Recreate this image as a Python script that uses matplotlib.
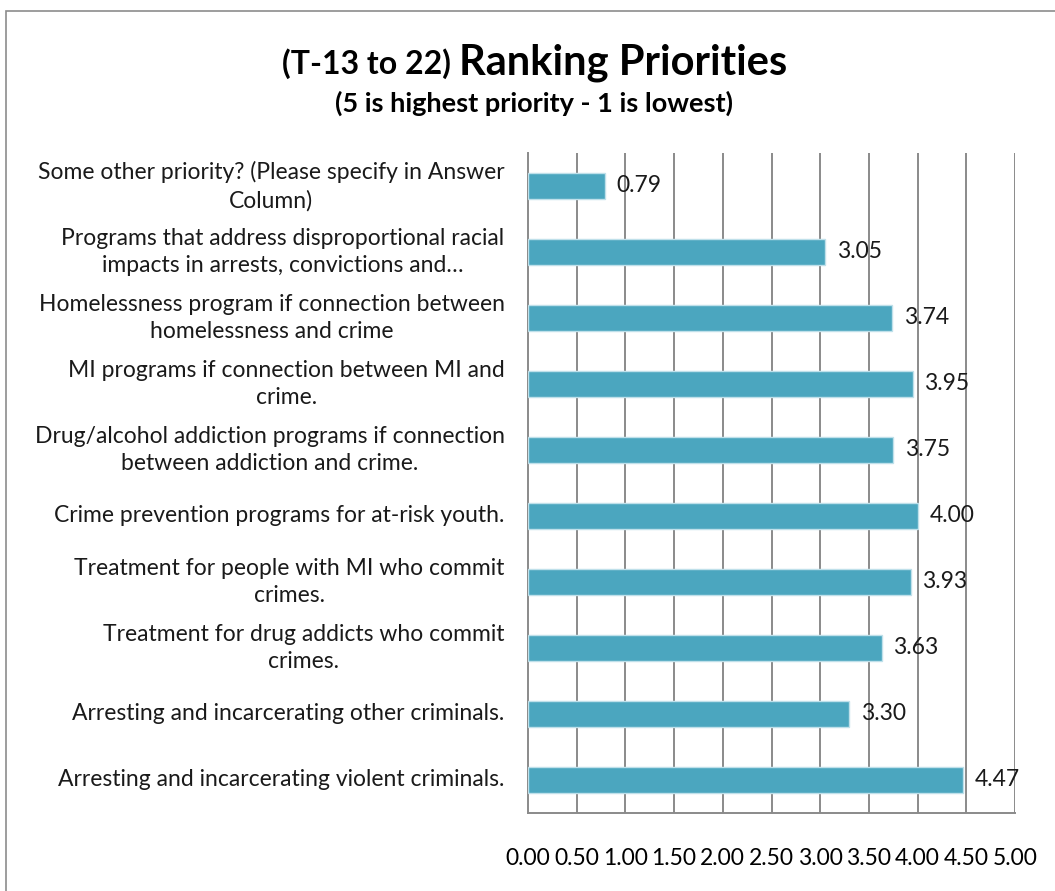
import matplotlib.pyplot as plt
from matplotlib.patches import Rectangle

plt.rcParams['font.family'] = ['Lato', 'DejaVu Sans']

categories = [
    "Arresting and incarcerating violent criminals.",
    "Arresting and incarcerating other criminals.",
    "Treatment for drug addicts who commit\ncrimes.",
    "Treatment for people with MI who commit\ncrimes.",
    "Crime prevention programs for at-risk youth.",
    "Drug/alcohol addiction programs if connection\nbetween addiction and crime.",
    "MI programs if connection between MI and\ncrime.",
    "Homelessness program if connection between\nhomelessness and crime",
    "Programs that address disproportional racial\nimpacts in arrests, convictions and\u2026",
    "Some other priority? (Please specify in Answer\nColumn)",
]
values = [4.47, 3.30, 3.63, 3.93, 4.00, 3.75, 3.95, 3.74, 3.05, 0.79]
xticks = [0.0, 0.5, 1.0, 1.5, 2.0, 2.5, 3.0, 3.5, 4.0, 4.5, 5.0]

W, H = 1055, 891
fig = plt.figure(figsize=(W / 100, H / 100), dpi=100)

# outer chart frame
fig.patches.append(Rectangle((6 / W, -0.05), 1.1, 1 - 11 / H + 0.05,
                             transform=fig.transFigure, fill=False,
                             edgecolor='#8c8c8c', linewidth=1.2))

ax = fig.add_axes([528 / W, (H - 813) / H, 487 / W, 660 / H])

grid_c = '#8a8a8a'
fs = 16.5
ypos = list(range(len(values)))
ax.barh(ypos, values, height=0.4, color='#4BA6BF', edgecolor='#bfe0ea',
        linewidth=1, zorder=3)

for x in xticks[1:]:
    ax.axvline(x, color=grid_c, linewidth=1.4, zorder=1)

for y, v in zip(ypos, values):
    ax.text(v + 0.12, y, f"{v:.2f}", va='center', ha='left', fontsize=fs,
            color='#1a1a1a', zorder=4)

for y, lab in zip(ypos, categories):
    ax.text(-0.24, y, lab, transform=ax.transData, ha='right', va='center',
            multialignment='center', fontsize=fs, color='#1a1a1a',
            linespacing=1.4)

ax.set_xlim(0, 5)
ax.set_ylim(-0.5, len(values) - 0.5)
ax.set_xticks(xticks)
ax.set_xticklabels([f"{t:.2f}" for t in xticks], fontsize=fs)
ax.set_yticks([])
ax.tick_params(axis='x', length=0, pad=25)

for s in ['top', 'right']:
    ax.spines[s].set_visible(False)
for s in ['left', 'bottom']:
    ax.spines[s].set_color(grid_c)
    ax.spines[s].set_linewidth(1.4)

# title in two sizes
fig.text(459 / W, 1 - 74 / H, "(T-13 to 22) ", ha='right', va='baseline',
         fontsize=23, fontweight='bold')
fig.text(459 / W, 1 - 74 / H, "Ranking Priorities", ha='left',
         va='baseline', fontsize=30, fontweight='bold')
fig.text(534 / W, 1 - 112 / H, "(5 is highest priority - 1 is lowest)",
         ha='center', va='baseline', fontsize=19.5, fontweight='bold')

fig.savefig('out.png', dpi=100)
